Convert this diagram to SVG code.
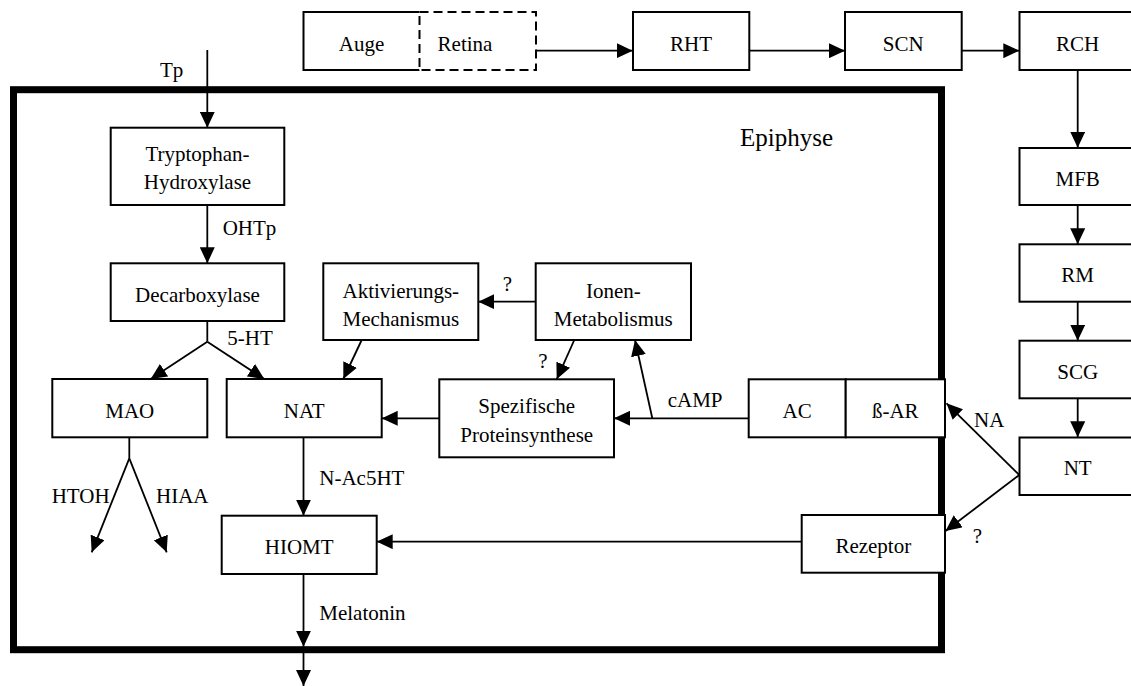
<svg xmlns="http://www.w3.org/2000/svg" width="1131" height="686" viewBox="0 0 1131 686">
<style>
.box{fill:#fff;stroke:#000;stroke-width:2}
.dash{fill:#fff;stroke:#000;stroke-width:2;stroke-dasharray:9 5}
.t{font-family:"Liberation Serif","Times New Roman",serif;font-size:21px;fill:#000}
.c{text-anchor:middle}
.ln{stroke:#000;stroke-width:1.8;fill:none}
.arr{marker-end:url(#ah)}
.frame{fill:none;stroke:#000;stroke-width:7}
</style>
<defs>
<marker id="ah" markerUnits="userSpaceOnUse" markerWidth="16" markerHeight="15" refX="16" refY="7.5" orient="auto">
<path d="M0,0 L16,7.5 L0,15 Z" fill="#000"/>
</marker>
</defs>
<rect fill="#fff" x="0" y="0" width="1131" height="686"/>

<g id="epiphyse">
<rect class="frame" x="13.5" y="89.7" width="928" height="560"/>
<text class="t" x="740" y="146" style="font-size:25px">Epiphyse</text>
</g>

<g id="connectors">
<line class="ln arr" x1="207.3" y1="50" x2="207.3" y2="127.7"/>
<line class="ln arr" x1="536" y1="50.7" x2="632.7" y2="50.7"/>
<line class="ln arr" x1="749.3" y1="50.7" x2="845" y2="50.7"/>
<line class="ln arr" x1="961.7" y1="50.7" x2="1019.3" y2="50.7"/>
<line class="ln arr" x1="1077.7" y1="70" x2="1077.7" y2="147.7"/>
<line class="ln arr" x1="1077.7" y1="205" x2="1077.7" y2="244.3"/>
<line class="ln arr" x1="1077.7" y1="301.7" x2="1077.7" y2="340.7"/>
<line class="ln arr" x1="1077.7" y1="398.3" x2="1077.7" y2="437.3"/>
<line class="ln arr" x1="207.3" y1="205" x2="207.3" y2="263.3"/>
<line class="ln" x1="207.3" y1="321" x2="207.3" y2="341.7"/>
<line class="ln arr" x1="207.3" y1="341.7" x2="150.7" y2="379"/>
<line class="ln arr" x1="207.3" y1="341.7" x2="264.3" y2="379"/>
<line class="ln arr" x1="361.7" y1="340" x2="343.3" y2="379"/>
<line class="ln arr" x1="535.7" y1="301.7" x2="478.3" y2="301.7"/>
<line class="ln arr" x1="574.3" y1="340" x2="556.7" y2="379.3"/>
<line class="ln arr" x1="439.3" y1="418.3" x2="381.7" y2="418.3"/>
<line class="ln arr" x1="748.7" y1="418.3" x2="614" y2="418.3"/>
<line class="ln arr" x1="652.3" y1="418.3" x2="635" y2="340"/>
<line class="ln arr" x1="1019.3" y1="475" x2="946.5" y2="403.3"/>
<line class="ln arr" x1="1019.3" y1="475" x2="945.5" y2="531"/>
<line class="ln arr" x1="801.7" y1="541.7" x2="376.7" y2="541.7"/>
<line class="ln arr" x1="303.5" y1="437.3" x2="303.5" y2="515.7"/>
<line class="ln arr" x1="303.5" y1="574" x2="303.5" y2="646.7"/>
<line class="ln arr" x1="303.5" y1="646.7" x2="303.5" y2="686"/>
<line class="ln" x1="129.3" y1="437.3" x2="129.3" y2="458.3"/>
<line class="ln arr" x1="129.3" y1="458.3" x2="91.7" y2="552.3"/>
<line class="ln arr" x1="129.3" y1="458.3" x2="166.7" y2="552.3"/>
<text class="t" x="160" y="76.7">Tp</text>
<text class="t" x="222.7" y="235">OHTp</text>
<text class="t" x="227.3" y="345">5-HT</text>
<text class="t c" x="507.5" y="290.7">?</text>
<text class="t c" x="543" y="368.3">?</text>
<text class="t" x="667.7" y="406.7">cAMP</text>
<text class="t" x="974" y="427">NA</text>
<text class="t c" x="977.5" y="543">?</text>
<text class="t" x="51.7" y="503.3">HTOH</text>
<text class="t" x="156" y="503.3">HIAA</text>
<text class="t" x="319.3" y="485">N-Ac5HT</text>
<text class="t" x="319.3" y="620">Melatonin</text>
</g>

<g id="auge">
<path d="M419.5,12 H303.5 V70 H419.5" fill="#fff" stroke="#000" stroke-width="2"/>
<text class="t c" x="361.5" y="50.5">Auge</text>
</g>
<g id="retina">
<rect class="dash" x="419.5" y="12" width="116.5" height="58"/>
<text class="t c" x="465" y="50.5">Retina</text>
</g>
<g id="rht">
<rect class="box" x="633" y="12" width="116.3" height="58"/>
<text class="t c" x="691" y="50.5">RHT</text>
</g>
<g id="scn">
<rect class="box" x="845" y="12" width="116.7" height="58"/>
<text class="t c" x="903.3" y="50.5">SCN</text>
</g>
<g id="rch">
<rect class="box" x="1019.5" y="12" width="118" height="58"/>
<text class="t c" x="1077.7" y="50.5">RCH</text>
</g>
<g id="mfb">
<rect class="box" x="1019.5" y="148" width="118" height="57"/>
<text class="t c" x="1077.7" y="186">MFB</text>
</g>
<g id="rm">
<rect class="box" x="1019.5" y="244.3" width="118" height="57.4"/>
<text class="t c" x="1077.7" y="281.7">RM</text>
</g>
<g id="scg">
<rect class="box" x="1019.5" y="340.7" width="118" height="57.6"/>
<text class="t c" x="1077.7" y="378.5">SCG</text>
</g>
<g id="nt">
<rect class="box" x="1019.5" y="437.5" width="118" height="57.5"/>
<text class="t c" x="1077.7" y="475">NT</text>
</g>
<g id="tryptophan-hydroxylase">
<rect class="box" x="110.7" y="127.7" width="173.6" height="77.3"/>
<text class="t c" x="197.5" y="160.5">Tryptophan-</text>
<text class="t c" x="197.5" y="189">Hydroxylase</text>
</g>
<g id="decarboxylase">
<rect class="box" x="110.7" y="263.3" width="173.6" height="57.7"/>
<text class="t c" x="197.5" y="301.7">Decarboxylase</text>
</g>
<g id="mao">
<rect class="box" x="52.3" y="379" width="155" height="58.3"/>
<text class="t c" x="129.8" y="418.3">MAO</text>
</g>
<g id="nat">
<rect class="box" x="226.7" y="379" width="155" height="58.3"/>
<text class="t c" x="304.2" y="418.3">NAT</text>
</g>
<g id="aktivierungs-mechanismus">
<rect class="box" x="323.3" y="263.3" width="155" height="76.7"/>
<text class="t c" x="400.8" y="297.5">Aktivierungs-</text>
<text class="t c" x="400.8" y="326">Mechanismus</text>
</g>
<g id="ionen-metabolismus">
<rect class="box" x="535.7" y="263.3" width="155.3" height="76.7"/>
<text class="t c" x="613.3" y="297.5">Ionen-</text>
<text class="t c" x="613.3" y="326">Metabolismus</text>
</g>
<g id="spezifische-proteinsynthese">
<rect class="box" x="439.3" y="379.3" width="174.7" height="78"/>
<text class="t c" x="526.7" y="412.5">Spezifische</text>
<text class="t c" x="526.7" y="441.5">Proteinsynthese</text>
</g>
<g id="ac">
<rect class="box" x="748.7" y="379.3" width="97" height="58"/>
<text class="t c" x="797.2" y="418.3">AC</text>
</g>
<g id="beta-ar">
<rect class="box" x="845.7" y="379.3" width="99.3" height="58"/>
<text class="t c" x="895.3" y="418.3">ß-AR</text>
</g>
<g id="hiomt">
<rect class="box" x="221.7" y="515.7" width="155" height="58.3"/>
<text class="t c" x="299.2" y="554">HIOMT</text>
</g>
<g id="rezeptor">
<rect class="box" x="801.7" y="515" width="143.3" height="57.7"/>
<text class="t c" x="873.3" y="552.5">Rezeptor</text>
</g>
</svg>
